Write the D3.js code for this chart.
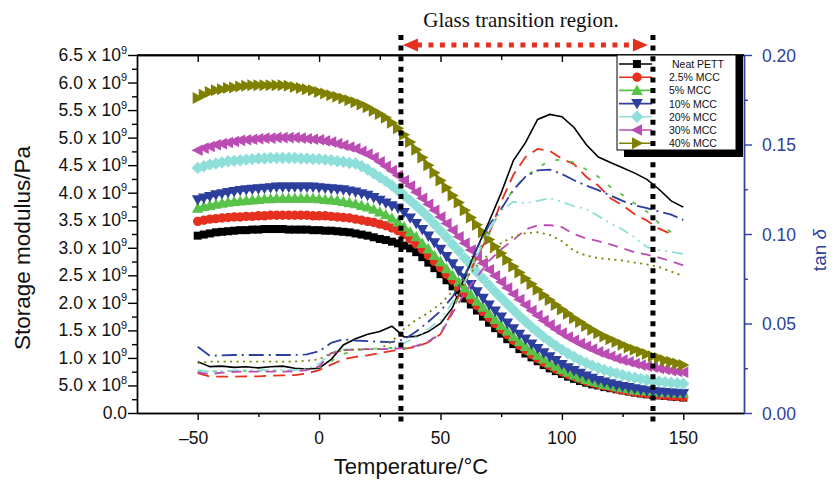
<!DOCTYPE html>
<html><head><meta charset="utf-8">
<script src="https://cdn.jsdelivr.net/npm/d3@7"></script>
<style>body{margin:0;background:#fff}svg{display:block}</style>
</head><body><svg id="c" width="832" height="484"></svg>
<script>
// ---------- DATA ----------
const temps = [-50,-47.5,-45,-42.5,-40,-37.5,-35,-32.5,-30,-27.5,-25,-22.5,-20,-17.5,-15,-12.5,-10,-7.5,-5,-2.5,0,2.5,5,7.5,10,12.5,15,17.5,20,22.5,25,27.5,30,32.5,35,37.5,40,42.5,45,47.5,50,52.5,55,57.5,60,62.5,65,67.5,70,72.5,75,77.5,80,82.5,85,87.5,90,92.5,95,97.5,100,102.5,105,107.5,110,112.5,115,117.5,120,122.5,125,127.5,130,132.5,135,137.5,140,142.5,145,147.5,150];
// storage modulus, in units of 1e9 Pa
const modNeat = [3.22,3.24,3.26,3.28,3.29,3.30,3.31,3.32,3.32,3.33, 3.33,3.34,3.34,3.34,3.34,3.33,3.33,3.33,3.33,3.32, 3.32,3.31,3.31,3.30,3.29,3.28,3.26,3.24,3.22,3.19, 3.16,3.14,3.11,3.08,3.04,2.99,2.92,2.83,2.73,2.63, 2.52,2.41,2.30,2.19,2.08,1.97,1.86,1.75,1.64,1.54, 1.44,1.34,1.25,1.16,1.08,1.01,0.94,0.87,0.81,0.76, 0.71,0.66,0.62,0.58,0.55,0.52,0.50,0.47,0.45,0.43, 0.41,0.39,0.37,0.355,0.34,0.33,0.32,0.31,0.30,0.29,0.28];
const mod25 = [3.48,3.50,3.52,3.53,3.54,3.55,3.56,3.56,3.57,3.57, 3.58,3.58,3.59,3.59,3.59,3.59,3.59,3.59,3.59,3.58, 3.58,3.58,3.57,3.56,3.55,3.54,3.52,3.50,3.48,3.46, 3.43,3.40,3.36,3.31,3.24,3.16,3.07,2.97,2.86,2.75, 2.64,2.52,2.41,2.29,2.18,2.06,1.95,1.84,1.73,1.62, 1.52,1.42,1.32,1.23,1.14,1.06,0.99,0.92,0.86,0.80, 0.75,0.70,0.66,0.62,0.58,0.55,0.52,0.49,0.47,0.44, 0.42,0.40,0.38,0.365,0.35,0.34,0.33,0.32,0.31,0.30,0.29];
const mod5 = [3.72,3.75,3.77,3.79,3.81,3.83,3.84,3.85,3.86,3.87, 3.88,3.89,3.89,3.90,3.90,3.90,3.90,3.90,3.90,3.90, 3.89,3.88,3.87,3.86,3.84,3.82,3.80,3.77,3.74,3.70, 3.65,3.60,3.54,3.47,3.38,3.29,3.20,3.08,2.98,2.86, 2.75,2.62,2.50,2.38,2.27,2.15,2.03,1.92,1.81,1.70, 1.59,1.49,1.39,1.30,1.21,1.13,1.05,0.98,0.91,0.85, 0.79,0.74,0.69,0.65,0.61,0.58,0.55,0.52,0.50,0.48, 0.46,0.44,0.42,0.41,0.40,0.39,0.38,0.375,0.37,0.365,0.36];
const mod10 = [3.87,3.90,3.93,3.96,3.98,4.00,4.02,4.04,4.05,4.06, 4.07,4.08,4.09,4.10,4.10,4.10,4.10,4.10,4.10,4.10, 4.09,4.08,4.07,4.06,4.05,4.03,4.01,3.98,3.95,3.91, 3.86,3.81,3.76,3.72,3.64,3.54,3.44,3.33,3.21,3.09, 2.97,2.84,2.71,2.58,2.45,2.33,2.20,2.08,1.96,1.85, 1.74,1.63,1.53,1.43,1.34,1.25,1.17,1.09,1.02,0.95, 0.88,0.82,0.77,0.72,0.67,0.63,0.59,0.56,0.53,0.50, 0.48,0.46,0.44,0.42,0.40,0.39,0.38,0.37,0.36,0.355,0.35];
const mod20 = [4.45,4.48,4.51,4.53,4.55,4.57,4.58,4.59,4.60,4.61, 4.62,4.62,4.63,4.63,4.63,4.63,4.63,4.62,4.62,4.61, 4.61,4.60,4.59,4.57,4.56,4.54,4.53,4.48,4.42,4.35, 4.28,4.21,4.13,4.04,3.95,3.86,3.76,3.66,3.55,3.43, 3.31,3.19,3.06,2.94,2.81,2.69,2.56,2.44,2.32,2.20, 2.09,1.98,1.87,1.76,1.66,1.56,1.47,1.38,1.30,1.22, 1.15,1.08,1.02,0.96,0.91,0.86,0.82,0.78,0.75,0.72, 0.69,0.66,0.64,0.62,0.60,0.585,0.57,0.56,0.55,0.54,0.53];
const mod30 = [4.77,4.81,4.84,4.87,4.89,4.91,4.93,4.95,4.96,4.97, 4.98,4.99,4.99,5.00,5.00,5.00,5.00,4.99,4.98,4.97, 4.96,4.94,4.92,4.89,4.86,4.83,4.80,4.75,4.70,4.64, 4.56,4.48,4.40,4.31,4.22,4.12,4.01,3.90,3.79,3.68, 3.56,3.44,3.32,3.20,3.08,2.96,2.84,2.72,2.60,2.49, 2.38,2.27,2.16,2.06,1.96,1.86,1.77,1.68,1.60,1.52, 1.45,1.38,1.32,1.26,1.21,1.16,1.11,1.07,1.03,0.99, 0.96,0.93,0.90,0.87,0.85,0.83,0.81,0.79,0.77,0.755,0.74];
const mod40 = [5.72,5.78,5.83,5.86,5.88,5.90,5.91,5.93,5.94,5.95, 5.95,5.95,5.95,5.95,5.95,5.94,5.92,5.90,5.88,5.86, 5.83,5.80,5.77,5.74,5.71,5.68,5.64,5.60,5.55,5.49, 5.43,5.36,5.27,5.17,5.05,4.92,4.78,4.64,4.50,4.36, 4.22,4.09,3.95,3.82,3.68,3.55,3.42,3.28,3.15,3.02, 2.90,2.78,2.66,2.55,2.44,2.34,2.24,2.14,2.05,1.96, 1.88,1.80,1.72,1.65,1.58,1.51,1.45,1.39,1.34,1.29, 1.24,1.19,1.15,1.11,1.07,1.03,1.00,0.96,0.93,0.90,0.87];

const tanTemps = [-50,-45,-40,-35,-30,-25,-20,-15,-10,-5,0,5,10,15,20,25,30,35,40,45,50,55,60,65,70,75,80,85,90,95,100,105,110,115,120,125,130,135,140,145,150];
const tanNeat = [0.0287,0.0259,0.0262,0.0255,0.0258,0.0252,0.0258,0.0262,0.0250,0.0246,0.0250, 0.0300,0.0380,0.0415,0.0440,0.0455,0.0485,0.0425,0.0428,0.0455,0.0500, 0.0590,0.0760,0.0920,0.1070,0.1230,0.1410,0.1510,0.1640,0.1668,0.1655, 0.1595,0.1500,0.1430,0.1400,0.1370,0.1340,0.1305,0.1250,0.1185,0.1150];
const tan25 = [0.0223,0.0203,0.0203,0.0203,0.0205,0.0205,0.0208,0.0210,0.0212,0.0220,0.0240, 0.0270,0.0300,0.0314,0.0322,0.0335,0.0347,0.0358,0.0370,0.0395,0.0440, 0.0575,0.0730,0.0870,0.1000,0.1180,0.1330,0.1430,0.1475,0.1465,0.1420, 0.1390,0.1320,0.1270,0.1200,0.1160,0.1110,0.1075,0.1030,0.1000,null];
const tan5 = [0.0235,0.0232,0.0232,0.0235,0.0235,0.0235,0.0236,0.0236,0.0236,0.0240,0.0255, 0.0290,0.0330,0.0350,0.0358,0.0362,0.0363,0.0363,0.0368,0.0400,0.0450, 0.0560,0.0770,0.0890,0.1010,0.1140,0.1250,0.1320,0.1370,0.1410,0.1415, 0.1400,0.1360,0.1320,0.1263,0.1218,0.1170,0.1125,0.1060,0.1010,null];
const tan10 = [0.0370,0.0320,0.0322,0.0324,0.0324,0.0324,0.0324,0.0324,0.0324,0.0328,0.0345, 0.0392,0.0412,0.0405,0.0402,0.0398,0.0396,0.0410,0.0455,0.0510,0.0570, 0.0650,0.0770,0.0920,0.1050,0.1140,0.1246,0.1320,0.1355,0.1360,0.1335, 0.1300,0.1270,0.1245,0.1215,0.1185,0.1160,0.1145,0.1125,0.1108,0.1078];
const tan20 = [0.0240,0.0231,0.0235,0.0238,0.0240,0.0240,0.0240,0.0240,0.0240,0.0245,0.0275, 0.0340,0.0355,0.0357,0.0357,0.0357,0.0360,0.0390,0.0425,0.0470,0.0520, 0.0620,0.0730,0.0880,0.1020,0.1130,0.1180,0.1172,0.1185,0.1200,0.1180, 0.1155,0.1140,0.1100,0.1060,0.1025,0.0980,0.0927,0.0910,0.0900,0.0888];
const tan30 = [0.0225,0.0218,0.0225,0.0230,0.0231,0.0231,0.0231,0.0231,0.0233,0.0240,0.0260, 0.0335,0.0350,0.0355,0.0357,0.0357,0.0358,0.0362,0.0375,0.0400,0.0440, 0.0560,0.0670,0.0760,0.0850,0.0915,0.0967,0.1025,0.1048,0.1050,0.1038, 0.1000,0.0975,0.0960,0.0942,0.0920,0.0898,0.0885,0.0868,0.0848,0.0825];
const tan40 = [0.0279,0.0287,0.0287,0.0287,0.0287,0.0287,0.0287,0.0287,0.0288,0.0292,0.0300, 0.0335,0.0350,0.0355,0.0357,0.0357,0.0400,0.0470,0.0520,0.0560,0.0610, 0.0680,0.0750,0.0820,0.0890,0.0950,0.0985,0.1005,0.1010,0.0995,0.0960, 0.0905,0.0880,0.0865,0.0858,0.0852,0.0840,0.0830,0.0815,0.0790,0.0765];

const seriesNames = ["Neat PETT","2.5% MCC","5% MCC","10% MCC","20% MCC","30% MCC","40% MCC"];
const xTicks = [-50,0,50,100,150];
const xMinorTicks = [-25,25,75,125];
const yTicks = [0,0.5,1,1.5,2,2.5,3,3.5,4,4.5,5,5.5,6,6.5];
const yTickLabels = ["0.0","5.0|8","1.0|9","1.5|9","2.0|9","2.5|9","3.0|9","3.5|9","4.0|9","4.5|9","5.0|9","5.5|9","6.0|9","6.5|9"];
const yMinorTicks = [0.25,0.75,1.25,1.75,2.25,2.75,3.25,3.75,4.25,4.75,5.25,5.75,6.25];
const rTicks = [0,0.05,0.10,0.15,0.20];
const rTickLabels = ["0.00","0.05","0.10","0.15","0.20"];
const rMinorTicks = [0.025,0.075,0.125,0.175];
const glassRegion = [33.7, 137.5];

// ---------- STYLE ----------
const colors = ["#000000","#e5301f","#58c249","#2c3f9d","#8edfd9","#bb4cb3","#808000"];
const dashes = [null,"12,7","4,11","15,5,2,5","11,5,2,5,2,5","10,7","2,4.5"];
const shapes = ["square","circle","triUp","triDown","diamond","triLeft","triRight"];
const axisBlue = "#2e3f9c";
const FONT = "'Liberation Sans', Arial, Helvetica, sans-serif";

function shapePath(s){
  switch(s){
    case "square": return "M-4,-4h8v8h-8z";
    case "circle": return "M-4.7,0a4.7,4.7 0 1,0 9.4,0a4.7,4.7 0 1,0 -9.4,0z";
    case "triUp": return "M0,-5.8L5.8,4.6L-5.8,4.6z";
    case "triDown": return "M0,5.8L5.8,-4.6L-5.8,-4.6z";
    case "diamond": return "M0,-6.2L6.2,0L0,6.2L-6.2,0z";
    case "triLeft": return "M-6.2,0L5,-5.8L5,5.8z";
    case "triRight": return "M6.2,0L-5,-6L-5,6z";
  }
}

const svg = d3.select("#c");
const L=137, R=744, T=55, B=413;
const x = d3.scaleLinear().domain([-75,175]).range([L,R]);
const yL = d3.scaleLinear().domain([0,6.5]).range([B,T]);
const yR = d3.scaleLinear().domain([0,0.2]).range([B,T]);

// ---------- AXES ----------
function styleAxis(g, color){
  g.selectAll("path.domain").attr("stroke",color).attr("stroke-width",1.4);
  g.selectAll(".tick line").attr("stroke",color).attr("stroke-width",1.4);
  g.selectAll(".tick text").remove();
}
// bottom
const gb = svg.append("g").attr("transform",`translate(0,${B})`)
  .call(d3.axisBottom(x).tickValues(xTicks).tickSize(7).tickSizeOuter(0));
styleAxis(gb,"#000");
const gbm = svg.append("g").attr("transform",`translate(0,${B})`)
  .call(d3.axisBottom(x).tickValues(xMinorTicks).tickSize(4).tickSizeOuter(0));
styleAxis(gbm,"#000");
svg.append("g").selectAll("text").data(xTicks).join("text")
  .attr("x",d=>x(d)-(d<0?4:0)).attr("y",B+31).attr("text-anchor","middle")
  .attr("font-family",FONT).attr("font-size",17.5).attr("fill","#111")
  .text(d=> d<0 ? "\u2013"+Math.abs(d) : d);
// top (ticks inward)
const gt = svg.append("g").attr("transform",`translate(0,${T})`)
  .call(d3.axisTop(x).tickValues(xTicks).tickSize(-7).tickSizeOuter(0));
styleAxis(gt,"#000");
const gtm = svg.append("g").attr("transform",`translate(0,${T})`)
  .call(d3.axisTop(x).tickValues(xMinorTicks).tickSize(-5).tickSizeOuter(0));
styleAxis(gtm,"#000");
// left
const gl = svg.append("g").attr("transform",`translate(${L},0)`)
  .call(d3.axisLeft(yL).tickValues(yTicks).tickSize(9).tickSizeOuter(0));
styleAxis(gl,"#000");
const glm = svg.append("g").attr("transform",`translate(${L},0)`)
  .call(d3.axisLeft(yL).tickValues(yMinorTicks).tickSize(5).tickSizeOuter(0));
styleAxis(glm,"#000");
const yl = svg.append("g");
yTicks.forEach((v,i)=>{
  const parts = yTickLabels[i].split("|");
  const t = yl.append("text").attr("x",127).attr("y",yL(v)+6)
    .attr("text-anchor","end").attr("font-family",FONT).attr("font-size",17.5).attr("fill","#111");
  if(parts.length===1){ t.text(parts[0]); }
  else {
    t.append("tspan").text(parts[0]+" x 10");
    t.append("tspan").attr("dy",-7.5).attr("font-size",11).text(parts[1]);
  }
});
// right
const gr = svg.append("g").attr("transform",`translate(${R},0)`)
  .call(d3.axisRight(yR).tickValues(rTicks).tickSize(8).tickSizeOuter(0));
styleAxis(gr,axisBlue);
const grm = svg.append("g").attr("transform",`translate(${R},0)`)
  .call(d3.axisRight(yR).tickValues(rMinorTicks).tickSize(4).tickSizeOuter(0));
styleAxis(grm,axisBlue);
svg.append("g").selectAll("text").data(rTicks).join("text")
  .attr("x",R+18).attr("y",d=>yR(d)+6.5)
  .attr("font-family",FONT).attr("font-size",17.5).attr("fill",axisBlue)
  .text((d,i)=>rTickLabels[i]);
// top frame line
svg.append("line").attr("x1",L).attr("x2",R).attr("y1",T).attr("y2",T).attr("stroke","#000").attr("stroke-width",1.4);

// axis titles
svg.append("text").attr("transform",`translate(30,248) rotate(-90)`).attr("text-anchor","middle")
  .attr("font-family",FONT).attr("font-size",22.5).attr("fill","#111").text("Storage modulus/Pa");
svg.append("text").attr("x",411).attr("y",474).attr("text-anchor","middle")
  .attr("font-family",FONT).attr("font-size",22).attr("fill","#111").text("Temperature/\u00B0C");
const tt = svg.append("text").attr("transform",`translate(826,250) rotate(-90)`).attr("text-anchor","middle")
  .attr("font-family",FONT).attr("font-size",19).attr("fill",axisBlue);
tt.append("tspan").text("tan ");
tt.append("tspan").attr("font-style","italic").text("\u03B4");

// ---------- STORAGE MODULUS ----------
const modSeries = [modNeat,mod25,mod5,mod10,mod20,mod30,mod40];
const lineL = d3.line().x((d,i)=>x(temps[i])).y(d=>yL(d));
modSeries.forEach((arr,k)=>{
  const g = svg.append("g");
  g.append("path").attr("d",lineL(arr)).attr("fill","none").attr("stroke",colors[k]).attr("stroke-width",3);
  g.selectAll("path.m").data(arr).join("path").attr("class","m")
    .attr("transform",(d,i)=>`translate(${x(temps[i])},${yL(d)})`)
    .attr("d",shapePath(shapes[k])).attr("fill",colors[k]);
});

// ---------- TAN DELTA ----------
const tanSeries = [tanNeat,tan25,tan5,tan10,tan20,tan30,tan40];
const lineR = d3.line().defined(d=>d!=null).x((d,i)=>x(tanTemps[i])).y(d=>yR(d));
tanSeries.forEach((arr,k)=>{
  svg.append("path").attr("d",lineR(arr)).attr("fill","none").attr("stroke",colors[k])
    .attr("stroke-width",k===0?1.6:1.8).attr("stroke-dasharray",dashes[k]);
});

// ---------- LEGEND ----------
const lg = svg.append("g");
lg.append("rect").attr("x",624).attr("y",56).attr("width",119).attr("height",101).attr("fill","#000");
lg.append("rect").attr("x",617).attr("y",55).attr("width",119).attr("height",95).attr("fill","#fff").attr("stroke","#000").attr("stroke-width",1);
seriesNames.forEach((n,k)=>{
  const yy = 64 + k*13.2;
  lg.append("line").attr("x1",619).attr("x2",652).attr("y1",yy).attr("y2",yy).attr("stroke",colors[k]).attr("stroke-width",1.6);
  lg.append("path").attr("transform",`translate(637,${yy})`).attr("d",shapePath(shapes[k])).attr("fill",colors[k]);
  lg.append("text").attr("x",k===0?672:669).attr("y",yy+4).attr("font-family",FONT).attr("font-size",10.5).attr("fill","#111").text(n);
});

// ---------- ANNOTATIONS ----------
glassRegion.forEach(t=>{
  svg.append("line").attr("x1",x(t)).attr("x2",x(t)).attr("y1",35).attr("y2",427)
    .attr("stroke","#000").attr("stroke-width",5).attr("stroke-dasharray","5,5.6");
});
const red = "#e5301f";
const ax0 = x(glassRegion[0])+2, ax1 = x(glassRegion[1])-5, ay = 45;
svg.append("line").attr("x1",ax0+14).attr("x2",ax1-14).attr("y1",ay).attr("y2",ay)
  .attr("stroke",red).attr("stroke-width",5).attr("stroke-dasharray","5,6.5");
svg.append("path").attr("d",`M${ax0},${ay}L${ax0+15},${ay-6.5}L${ax0+15},${ay+6.5}z`).attr("fill",red);
svg.append("path").attr("d",`M${ax1},${ay}L${ax1-15},${ay-6.5}L${ax1-15},${ay+6.5}z`).attr("fill",red);
svg.append("text").attr("x",521).attr("y",27).attr("text-anchor","middle")
  .attr("font-family","'Liberation Serif','Times New Roman',serif").attr("font-size",21).attr("fill","#111")
  .text("Glass transition region.");
</script></body></html>
